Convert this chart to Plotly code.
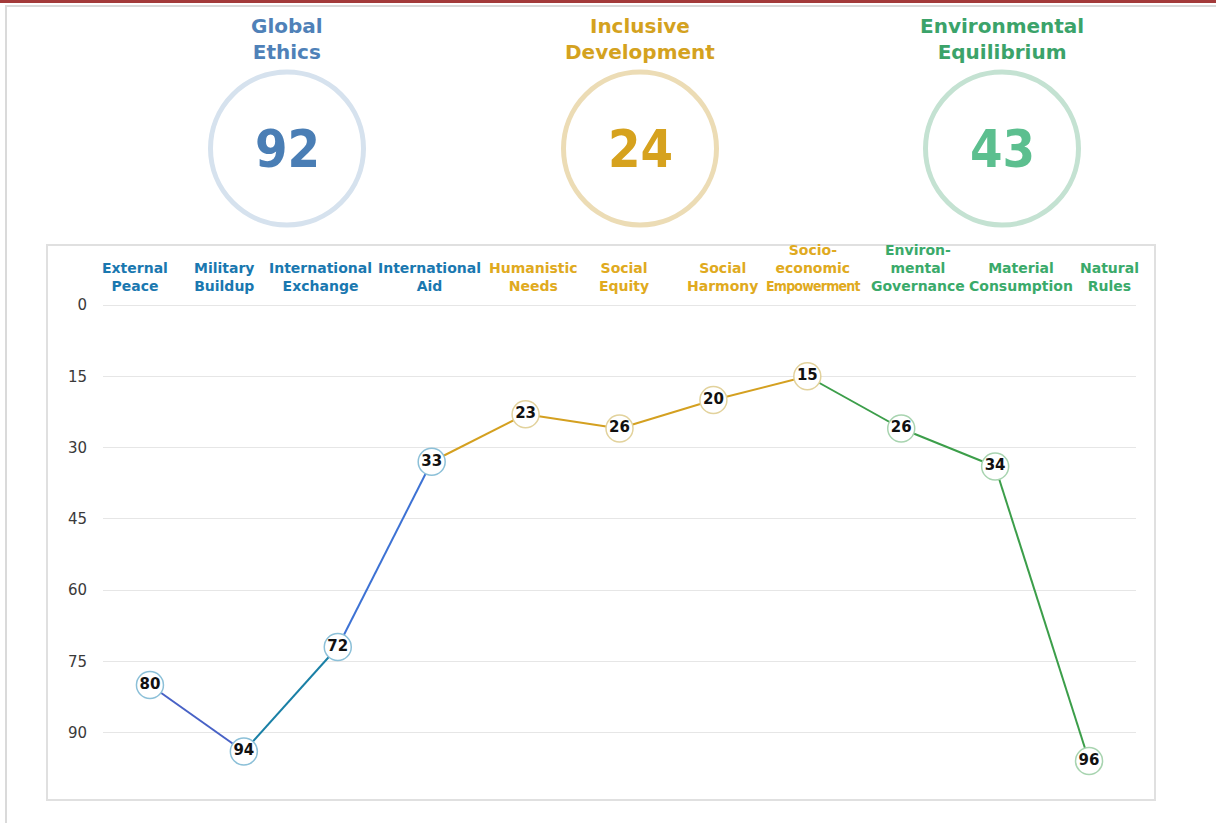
import plotly.graph_objects as go

# ---------------- data ----------------
categories = ["External<br>Peace", "Military<br>Buildup", "International<br>Exchange",
              "International<br>Aid", "Humanistic<br>Needs", "Social<br>Equity",
              "Social<br>Harmony",
              "Socio-<br>economic<br><span style='font-family:DejaVu Sans Condensed;font-size:14px;letter-spacing:-0.8px'>Empowerment</span>",
              "Environ-<br>mental<br>Governance", "Material<br>Consumption", "Natural<br>Rules"]
groups = ["ge", "ge", "ge", "ge", "id", "id", "id", "id", "ee", "ee", "ee"]
values = [80, 94, 72, 33, 23, 26, 20, 15, 26, 34, 96]
segment_colors = ["#4862c6", "#1a80a6", "#3d72d4", "#d4a020", "#d4a020", "#d4a020",
                  "#d4a020", "#3c9e4a", "#3c9e4a", "#3c9e4a"]
summary_titles = ["Global<br>Ethics", "Inclusive<br>Development", "Environmental<br>Equilibrium"]
summary_values = [92, 24, 43]
y_ticks = [0, 15, 30, 45, 60, 75, 90]

# label placement (pixel centers of the header labels) and styles
label_centers_px = [135, 224, 320, 429, 533, 624, 722, 813, 918, 1021, 1109]
group_label_color = {"ge": "#1a78b0", "id": "#e0aa20", "ee": "#3aaa6a"}
group_marker_line = {"ge": "#8cc0d8", "id": "#e2d29c", "ee": "#a8d4b0"}
summary_title_colors = ["#4f81b8", "#d4a21f", "#3ba36a"]
summary_num_colors = ["#4a7eb5", "#d6a21e", "#5cbf8f"]
summary_ring_colors = ["#d6e2ee", "#ecdcb5", "#c4e2d2"]
summary_cx = [287, 640, 1002]

# ---------------- layout geometry (pixels) ----------------
W, H = 1216, 823
L, R = 103, 1136
T, B = 300, 790
PW, PH = R - L, B - T


def px(x):
    return (x - L) / PW


def py(y):
    return (B - y) / PH


fig = go.Figure()

# line segments
for i in range(len(values) - 1):
    fig.add_trace(go.Scatter(
        x=[categories[i], categories[i + 1]], y=[values[i], values[i + 1]],
        mode="lines", line=dict(color=segment_colors[i], width=2),
        hoverinfo="skip", showlegend=False))

# markers with labels
fig.add_trace(go.Scatter(
    x=categories, y=values, mode="markers+text",
    text=[str(v) for v in values], textposition="middle center",
    textfont=dict(family="DejaVu Sans", size=15, color="#111111", weight="bold"),
    marker=dict(size=27, color="white",
                line=dict(color=[group_marker_line[g] for g in groups], width=1.5)),
    showlegend=False, cliponaxis=False))

shapes = []
annotations = []

# category labels above plot
for c, g, lx in zip(categories, groups, label_centers_px):
    annotations.append(dict(
        x=px(lx), xref="paper", y=py(296), yref="paper", text="<b>" + c + "</b>",
        showarrow=False, yanchor="bottom", xanchor="center",
        font=dict(family="DejaVu Sans", size=14, color=group_label_color[g]),
        align="center"))

# summary circles
for t, v, tc, nc, rc, cx in zip(summary_titles, summary_values, summary_title_colors,
                                summary_num_colors, summary_ring_colors, summary_cx):
    cy, r = 148.5, 76.5
    shapes.append(dict(type="circle", xref="paper", yref="paper",
                       x0=px(cx - r), x1=px(cx + r), y0=py(cy + r), y1=py(cy - r),
                       line=dict(color=rc, width=5)))
    annotations.append(dict(x=px(cx), y=py(149), xref="paper", yref="paper",
                            text="<b>%d</b>" % v, showarrow=False,
                            font=dict(family="DejaVu Sans Condensed", size=52, color=nc),
                            xanchor="center", yanchor="middle"))
    annotations.append(dict(x=px(cx), y=py(39), xref="paper", yref="paper",
                            text="<b>" + t + "</b>", showarrow=False,
                            font=dict(family="DejaVu Sans", size=20, color=tc),
                            xanchor="center", yanchor="middle"))

# chart box
shapes.append(dict(type="rect", xref="paper", yref="paper",
                   x0=px(47), x1=px(1155), y0=py(800), y1=py(245),
                   line=dict(color="#e0e0e0", width=2), layer="below"))
# outer frame decorations
shapes.append(dict(type="line", xref="paper", yref="paper",
                   x0=px(0), x1=px(1216), y0=py(1.5), y1=py(1.5),
                   line=dict(color="#a33a3a", width=3)))
shapes.append(dict(type="line", xref="paper", yref="paper",
                   x0=px(5), x1=px(1216), y0=py(6), y1=py(6),
                   line=dict(color="#dadada", width=2)))
shapes.append(dict(type="line", xref="paper", yref="paper",
                   x0=px(6), x1=px(6), y0=py(5), y1=py(823),
                   line=dict(color="#dadada", width=2)))

fig.update_layout(
    width=W, height=H,
    margin=dict(l=L, r=W - R, t=T, b=H - B, pad=0),
    paper_bgcolor="white", plot_bgcolor="white",
    shapes=shapes, annotations=annotations,
    xaxis=dict(type="category", categoryorder="array", categoryarray=categories,
               range=[-0.5, 10.5], showticklabels=False, showgrid=False,
               zeroline=False, showline=False, ticks=""),
    yaxis=dict(range=[(B - 305) / 4.75, (T - 305) / 4.75], tickvals=y_ticks,
               showgrid=True, gridcolor="#e6e6e6", gridwidth=1,
               zeroline=False, showline=False, ticks="outside", ticklen=12,
               tickcolor="rgba(0,0,0,0)",
               tickfont=dict(family="DejaVu Sans", size=15, color="#3a3a3a")),
    font=dict(family="DejaVu Sans"),
)

fig.write_html("out.html", config={"displayModeBar": False},
               post_script="document.body.style.margin='0';document.body.style.overflow='hidden';")
